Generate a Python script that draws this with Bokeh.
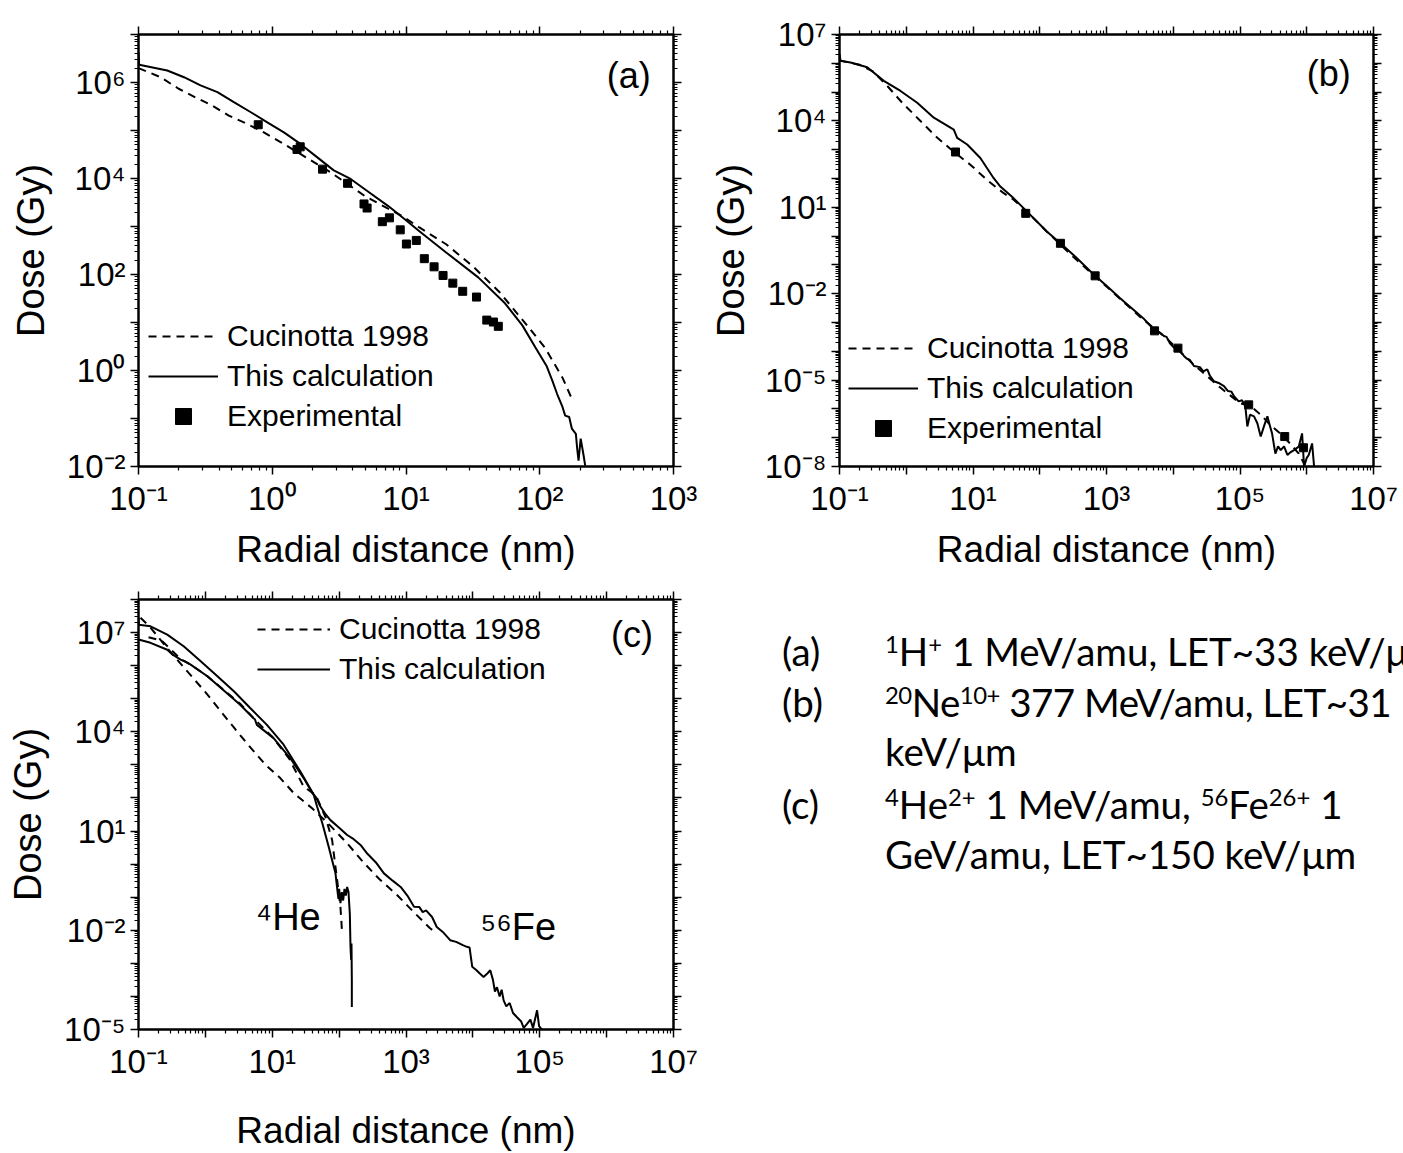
import numpy as np
from bokeh.plotting import figure
from bokeh.models import (FixedTicker, CustomJSTickFormatter, LogAxis, Legend,
                          LegendItem, Label, Div)
from bokeh.layouts import row, column
from bokeh.embed import file_html
from bokeh.resources import INLINE

FONT = "'Liberation Sans', Arial, sans-serif"

# ---------------- data (log10 of radial distance [nm], log10 of dose [Gy]) -------------
# Panel (a): 1H+ 1 MeV/amu
A_CALC_LOGR = [-1.0, -0.995, -0.785, -0.66, -0.536, -0.41, -0.287, -0.16, -0.037, 0.087, 0.21,
               0.337, 0.46, 0.586, 0.7, 0.87, 1.0, 1.10, 1.30, 1.54, 1.74, 1.87, 1.97, 2.05,
               2.094, 2.13, 2.17, 2.19, 2.22, 2.24, 2.27, 2.28, 2.29, 2.306, 2.326, 2.34]
A_CALC_LOGD = [6.63, 6.37, 6.25, 6.11, 5.94, 5.80, 5.59, 5.38, 5.17, 4.96, 4.72,
               4.44, 4.17, 3.99, 3.76, 3.42, 3.13, 2.90, 2.46, 1.94, 1.40, 0.94, 0.47, 0.1,
               -0.21, -0.49, -0.76, -0.94, -0.97, -1.21, -1.32, -1.63, -1.88, -1.42, -1.74, -1.98]
A_CUC_LOGR = [-1.0, -0.835, -0.70, -0.574, -0.45, -0.325, -0.19, -0.063, 0.062, 0.187, 0.311,
              0.436, 0.56, 0.7, 0.97, 1.1, 1.30, 1.50, 1.70, 1.905, 2.04, 2.17, 2.24]
A_CUC_LOGD = [6.30, 6.11, 5.87, 5.69, 5.52, 5.31, 5.14, 4.96, 4.76, 4.55, 4.34,
              4.13, 3.89, 3.62, 3.22, 2.98, 2.63, 2.17, 1.63, 0.94, 0.47, -0.15, -0.59]
A_EXP_LOGR = [-0.105, 0.185, 0.209, 0.376, 0.563, 0.686, 0.709, 0.823, 0.876, 0.957, 1.003,
              1.077, 1.137, 1.21, 1.277, 1.35, 1.424, 1.527, 1.604, 1.654, 1.69]
A_EXP_LOGD = [5.12, 4.605, 4.66, 4.195, 3.90, 3.47, 3.385, 3.10, 3.18, 2.93, 2.635,
              2.71, 2.33, 2.16, 1.98, 1.82, 1.65, 1.53, 1.05, 1.01, 0.92]

# Panel (b): 20Ne10+ 377 MeV/amu
B_CALC_LOGR = [-1.0, -0.985, -0.835, -0.585, -0.336, -0.086, 0.164, 0.413, 0.712, 0.763, 0.913,
               1.11, 1.31, 1.41, 1.61, 1.81, 2.11, 2.31, 2.55, 2.83, 3.0, 3.2, 3.4, 3.55,
               3.66, 3.72, 3.8, 3.86, 3.9, 3.95, 4.01, 4.07, 4.16, 4.2, 4.25, 4.31, 4.4, 4.45,
               4.51, 4.55, 4.61, 4.68, 4.76, 4.82, 4.87, 4.91, 4.98, 5.03, 5.08, 5.11, 5.15,
               5.21, 5.26, 5.31, 5.36, 5.41, 5.45, 5.48, 5.53, 5.57, 5.61, 5.66, 5.71, 5.76,
               5.81, 5.88, 5.93, 5.96, 6.0, 6.03, 6.08, 6.11]
B_CALC_LOGD = [6.33, 6.09, 6.03, 5.86, 5.39, 5.04, 4.63, 4.11, 3.70, 3.41, 3.18,
               2.71, 2.01, 1.72, 1.31, 0.85, 0.15, -0.25, -0.75, -1.38, -1.72, -2.15, -2.55, -2.85,
               -3.12, -3.25, -3.35, -3.47, -3.5, -3.72, -3.87, -3.92, -4.16, -4.25, -4.3, -4.51, -4.55, -4.7,
               -4.63, -4.85, -5.04, -5.1, -5.21, -5.38, -5.4, -5.56, -5.74, -5.7, -5.91, -6.61, -6.2,
               -6.26, -6.5, -6.96, -6.6, -6.26, -6.6, -6.85, -7.55, -7.3, -7.43, -7.3, -7.6, -7.5,
               -7.43, -7.31, -6.85, -8.0, -7.7, -7.6, -7.2, -8.0]
B_CUC_LOGR = [-1.0, -0.7, -0.5, -0.31, -0.06, 0.19, 0.44, 0.7, 0.96, 1.21, 1.46, 1.6, 1.8, 2.1,
              2.5, 3.0, 3.5, 3.9, 4.3, 4.7, 5.0, 5.16, 5.31, 5.45, 5.6, 5.75, 5.88, 5.97]
B_CUC_LOGD = [6.1, 5.95, 5.72, 5.28, 4.63, 4.05, 3.47, 2.95, 2.48, 1.95, 1.49, 1.28, 0.87, 0.17,
              -0.72, -1.75, -2.8, -3.55, -4.45, -5.25, -5.8, -5.9, -6.2, -6.55, -6.85, -7.2, -7.55, -7.95]
B_EXP_LOGR = [0.738, 1.79, 2.31, 2.83, 3.72, 4.07, 5.13, 5.67, 5.95]
B_EXP_LOGD = [2.92, 0.79, -0.25, -1.38, -3.29, -3.89, -5.86, -6.96, -7.35]

# Panel (c): 4He2+ 1 MeV/amu and 56Fe26+ 1 GeV/amu
C_HE_CALC_LOGR = [-1.0, -0.995, -0.82, -0.57, -0.32, -0.07, 0.18, 0.43, 0.67, 0.92, 1.17, 1.42,
                  1.55, 1.62, 1.67, 1.75, 1.845, 1.895, 1.945, 1.98, 1.99, 2.0, 2.02, 2.04, 2.06,
                  2.08, 2.1, 2.12, 2.14, 2.16, 2.17, 2.18, 2.185, 2.19, 2.19]
C_HE_CALC_LOGD = [7.45, 7.24, 7.19, 6.94, 6.58, 6.13, 5.68, 5.22, 4.72, 4.21, 3.61, 2.80,
                  2.35, 2.1, 1.74, 1.23, 0.52, 0.12, -0.27, -0.89, -1.05, -0.75, -1.18, -0.85, -1.1,
                  -0.75, -0.95, -0.69, -0.84, -1.5, -2.5, -2.9, -2.4, -3.5, -4.32]
C_FE_CALC_LOGR = [-1.0, -0.82, -0.57, -0.5, -0.37, -0.3, -0.22, 0.03, 0.28, 0.52, 0.72, 0.74, 0.77,
                  1.02, 1.27, 1.47, 1.6, 1.66, 1.72, 1.8, 1.87, 2.0, 2.12, 2.2, 2.32, 2.42, 2.55,
                  2.67, 2.8, 2.92, 3.02, 3.12, 3.2, 3.25, 3.3, 3.39, 3.46, 3.55, 3.66, 3.75, 3.85,
                  3.91, 3.95, 3.99, 4.05, 4.1, 4.16, 4.22, 4.26, 4.3, 4.33, 4.36, 4.4, 4.43, 4.46,
                  4.5, 4.55, 4.6, 4.66, 4.72, 4.76, 4.81, 4.86, 4.9, 4.96, 4.99, 5.03]
C_FE_CALC_LOGD = [6.79, 6.69, 6.48, 6.35, 6.18, 6.12, 6.03, 5.68, 5.24, 4.82, 4.41, 4.38, 4.21,
                  3.81, 3.20, 2.60, 2.15, 2.0, 1.74, 1.5, 1.33, 1.1, 0.88, 0.78, 0.58, 0.32, 0.05,
                  -0.28, -0.5, -0.69, -0.95, -1.29, -1.3, -1.45, -1.4, -1.6, -1.9, -2.05, -2.3, -2.35, -2.45,
                  -2.5, -2.52, -3.1, -3.2, -3.3, -3.41, -3.3, -3.21, -3.5, -3.85, -3.72, -4.0, -3.8, -4.12,
                  -4.3, -4.2, -4.5, -4.63, -4.75, -4.95, -4.83, -4.7, -4.95, -4.42, -4.9, -5.0]
C_HE_CUC_LOGR = [-0.85, -0.65, -0.37, -0.22, 0.03, 0.28, 0.52, 0.75, 1.0, 1.25, 1.47, 1.65, 1.8,
                 1.895, 1.97, 2.02, 2.045]
C_HE_CUC_LOGD = [6.86, 6.75, 6.2, 6.03, 5.68, 5.26, 4.85, 4.35, 3.85, 3.2, 2.34, 2.09, 1.4,
                 0.73, -0.48, -1.3, -2.1]
C_FE_CUC_LOGR = [-0.97, -0.82, -0.6, -0.4, -0.25, 0.0, 0.23, 0.45, 0.63, 0.9, 1.12, 1.32, 1.6,
                 1.85, 2.12, 2.36, 2.6, 2.87, 3.1, 3.36, 3.4]
C_FE_CUC_LOGD = [7.45, 7.15, 6.6, 6.13, 5.78, 5.2, 4.62, 4.07, 3.63, 3.0, 2.6, 2.15, 1.68,
                 1.2, 0.63, 0.06, -0.45, -0.94, -1.42, -1.94, -2.0]

LEGEND_LABELS = ["Cucinotta 1998", "This calculation", "Experimental"]


def pw(a):
    return 10.0 ** np.asarray(a, dtype=float)


def decade_ticker(lo, hi):
    majors = [10.0 ** e for e in range(lo, hi + 1)]
    minors = [m * 10.0 ** e for e in range(lo, hi) for m in range(2, 10)]
    return FixedTicker(ticks=majors, minor_ticks=minors)


def sup_formatter(start, step):
    return CustomJSTickFormatter(args=dict(start=start, step=step), code="""
        const e = Math.round(Math.log10(tick));
        if ((((e - start) % step) + step) % step !== 0) return "";
        const sup = {"0":"\u2070","1":"\u00b9","2":"\u00b2","3":"\u00b3","4":"\u2074",
                     "5":"\u2075","6":"\u2076","7":"\u2077","8":"\u2078","9":"\u2079","-":"\u207b"};
        return "10" + String(e).split("").map(c => sup[c]).join("");
    """)


def blank_formatter():
    return CustomJSTickFormatter(code='return "";')


def style_axis(ax):
    ax.axis_line_width = 2
    ax.axis_line_color = "black"
    ax.major_tick_line_width = 1.5
    ax.major_tick_line_color = "black"
    ax.minor_tick_line_width = 1.2
    ax.minor_tick_line_color = "black"
    ax.major_tick_out = 8
    ax.major_tick_in = 0
    ax.minor_tick_out = 4
    ax.minor_tick_in = 0
    ax.major_label_text_color = "black"
    ax.axis_label_text_color = "black"


def make_panel(width, height, left, right, top, bottom, xr, yr, xfmt, yfmt,
               xlab_standoff, ylab_standoff):
    p = figure(width=width, height=height, x_axis_type="log", y_axis_type="log",
               x_range=(10.0 ** xr[0], 10.0 ** xr[1]), y_range=(10.0 ** yr[0], 10.0 ** yr[1]),
               output_backend="svg", toolbar_location=None,
               min_border_left=left, min_border_right=right,
               min_border_top=top, min_border_bottom=bottom, margin=0)
    p.grid.visible = False
    p.outline_line_color = "black"
    p.outline_line_width = 2
    p.background_fill_color = "white"
    p.border_fill_color = "white"

    xa = p.xaxis[0]
    xa.ticker = decade_ticker(*xr)
    xa.formatter = sup_formatter(*xfmt)
    xa.axis_label = "Radial distance (nm)"
    xa.axis_label_text_font = FONT
    xa.axis_label_text_font_size = "37px"
    xa.axis_label_text_font_style = "normal"
    xa.axis_label_standoff = xlab_standoff
    xa.major_label_text_font = FONT
    xa.major_label_text_font_size = "33px"
    xa.major_label_standoff = 5
    style_axis(xa)

    ya = p.yaxis[0]
    ya.ticker = decade_ticker(*yr)
    ya.formatter = sup_formatter(*yfmt)
    ya.axis_label = "Dose (Gy)"
    ya.axis_label_text_font = FONT
    ya.axis_label_text_font_size = "38px"
    ya.axis_label_text_font_style = "normal"
    ya.axis_label_standoff = ylab_standoff
    ya.major_label_text_font = FONT
    ya.major_label_text_font_size = "33px"
    ya.major_label_standoff = 5
    style_axis(ya)

    top_ax = LogAxis(ticker=decade_ticker(*xr), formatter=blank_formatter(),
                     major_label_text_font_size="0px", major_label_standoff=0)
    style_axis(top_ax)
    p.add_layout(top_ax, "above")
    right_ax = LogAxis(ticker=decade_ticker(*yr), formatter=blank_formatter(),
                       major_label_text_font_size="0px", major_label_standoff=0)
    style_axis(right_ax)
    p.add_layout(right_ax, "right")
    return p


def add_legend(p, items, loc, glyph_width=70):
    leg = Legend(items=items, location=loc, orientation="vertical",
                 glyph_width=glyph_width, glyph_height=40, label_height=40,
                 label_standoff=9, spacing=0, padding=0, margin=0,
                 border_line_color=None, background_fill_alpha=0,
                 label_text_font=FONT, label_text_font_size="30px",
                 label_text_color="black")
    p.add_layout(leg)


def add_text(p, lx, ly, text, size):
    p.add_layout(Label(x=10 ** lx, y=10 ** ly, text=text, text_align="center",
                       text_baseline="middle", text_font=FONT, text_font_size=size,
                       text_color="black"))


DASH = "8 6"

# ---------------- panel (a) ----------------
pa = make_panel(700, 580, 138, 27, 34, 114, (-1, 3), (-2, 7), (-1, 1), (-2, 2), 9, 12)
ra_c = pa.line(pw(A_CUC_LOGR), pw(A_CUC_LOGD), line_color="black", line_width=2, line_dash=DASH)
ra_s = pa.line(pw(A_CALC_LOGR), pw(A_CALC_LOGD), line_color="black", line_width=2)
ra_e = pa.scatter(pw(A_EXP_LOGR), pw(A_EXP_LOGD), marker="square", size=8, color="black")
add_legend(pa, [LegendItem(label=LEGEND_LABELS[0], renderers=[ra_c]),
                LegendItem(label=LEGEND_LABELS[1], renderers=[ra_s]),
                LegendItem(label=LEGEND_LABELS[2], renderers=[ra_e])], (10, 30))
add_text(pa, 2.665, 6.15, "(a)", "36px")

# ---------------- panel (b) ----------------
pb = make_panel(703, 580, 139, 30, 34, 114, (-1, 7), (-8, 7), (-1, 2), (-8, 3), 9, 10)
rb_c = pb.line(pw(B_CUC_LOGR), pw(B_CUC_LOGD), line_color="black", line_width=2, line_dash=DASH)
rb_s = pb.line(pw(B_CALC_LOGR), pw(B_CALC_LOGD), line_color="black", line_width=2)
rb_e = pb.scatter(pw(B_EXP_LOGR), pw(B_EXP_LOGD), marker="square", size=8, color="black")
add_legend(pb, [LegendItem(label=LEGEND_LABELS[0], renderers=[rb_c]),
                LegendItem(label=LEGEND_LABELS[1], renderers=[rb_s]),
                LegendItem(label=LEGEND_LABELS[2], renderers=[rb_e])], (9, 18))
add_text(pb, 6.33, 5.66, "(b)", "36px")

# ---------------- panel (c) ----------------
pc = make_panel(700, 573, 138, 27, 19, 124, (-1, 7), (-5, 8), (-1, 2), (-5, 3), 27, 12)
rc_hc = pc.line(pw(C_HE_CUC_LOGR), pw(C_HE_CUC_LOGD), line_color="black", line_width=2, line_dash=DASH)
rc_fc = pc.line(pw(C_FE_CUC_LOGR), pw(C_FE_CUC_LOGD), line_color="black", line_width=2, line_dash=DASH)
rc_hs = pc.line(pw(C_HE_CALC_LOGR), pw(C_HE_CALC_LOGD), line_color="black", line_width=2)
rc_fs = pc.line(pw(C_FE_CALC_LOGR), pw(C_FE_CALC_LOGD), line_color="black", line_width=2)
add_legend(pc, [LegendItem(label=LEGEND_LABELS[0], renderers=[rc_fc]),
                LegendItem(label=LEGEND_LABELS[1], renderers=[rc_fs])], (119, 340), glyph_width=73)
add_text(pc, 6.38, 6.94, "(c)", "36px")
add_text(pc, 1.24, -1.6, "\u2074He", "38px")
add_text(pc, 4.68, -1.9, "\u2075\u2076Fe", "38px")

# ---------------- description text ----------------
SUP = "font-size:0.62em;vertical-align:0.55em;line-height:0;"
rows_html = [
    ("(a)", f"<span style='{SUP}'>1</span>H<span style='{SUP}'>+</span> 1 MeV/amu, LET~33 keV/\u03bcm", 0),
    ("(b)", f"<span style='{SUP}'>20</span>Ne<span style='{SUP}'>10+</span> 377 MeV/amu, LET~31", -0.5),
    ("", "keV/\u03bcm", 0),
    ("(c)", f"<span style='{SUP}'>4</span>He<span style='{SUP}'>2+</span> 1 MeV/amu, "
            f"<span style='{SUP}'>56</span>Fe<span style='{SUP}'>26+</span> 1", 0),
    ("", "GeV/amu, LET~150 keV/\u03bcm", 0),
]
row_tops = [46, 97, 146, 199, 249]
parts = []
for (lab, txt, ls), t in zip(rows_html, row_tops):
    if lab:
        parts.append(f"<div style='position:absolute;left:82px;top:{t}px;line-height:50px;'>{lab}</div>")
    parts.append(f"<div style='position:absolute;left:185px;top:{t}px;line-height:50px;"
                 f"letter-spacing:{ls}px;'>{txt}</div>")
html = ("<div style=\"position:relative;width:703px;height:573px;overflow:hidden;"
        "font-family:Lato,'Open Sans',sans-serif;font-size:38.5px;color:#000;white-space:nowrap;"
        "background:white;\">" + "".join(parts) + "</div>")
div = Div(text=html, width=703, height=573, margin=0, styles={"overflow": "hidden"})

layout = column(row(pa, pb, margin=0, spacing=0), row(pc, div, margin=0, spacing=0),
                margin=0, spacing=0)

open("out.html", "w").write(file_html(layout, INLINE))
